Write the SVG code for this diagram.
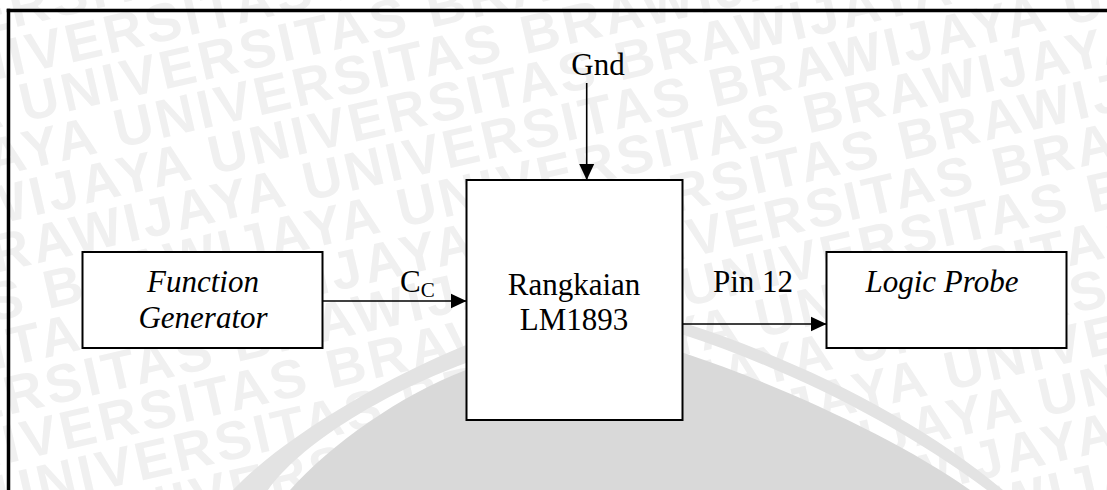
<svg xmlns="http://www.w3.org/2000/svg" xmlns:xlink="http://www.w3.org/1999/xlink" width="1107" height="490" viewBox="0 0 1107 490">
  <defs>
    <style>
      .box { fill: #ffffff; stroke: #000000; stroke-width: 2; }
      .lbl { font-family: "Liberation Serif", "Times New Roman", serif; font-size: 31px; fill: #000000; }
      .it { font-style: italic; }
      .wire { stroke: #000000; stroke-width: 1.6; fill: none; marker-end: url(#arrow); }
      .wm { font-family: "Liberation Sans", Arial, sans-serif; font-weight: bold; font-size: 54px; letter-spacing: 3.6px; fill: #f0f0f0; }
    </style>
    <marker id="arrow" markerUnits="userSpaceOnUse" markerWidth="16" markerHeight="16" refX="16" refY="8" orient="auto">
      <path d="M0,0.5 L16,8 L0,15.5 Z" fill="#000000"/>
    </marker>
    <text id="wmrow" class="wm" x="0" y="0">UNIVERSITAS BRAWIJAYA UNIVERSITAS BRAWIJAYA UNIVERSITAS BRAWIJAYA UNIVERSITAS BRAWIJAYA</text>
  </defs>

  <rect x="0" y="0" width="1107" height="490" fill="#ffffff"/>

  <g id="watermark" transform="rotate(-13)">
    <use xlink:href="#wmrow" x="-956" y="30"/>
    <use xlink:href="#wmrow" x="-870" y="77"/>
    <use xlink:href="#wmrow" x="-784" y="124"/>
    <use xlink:href="#wmrow" x="-698" y="171"/>
    <use xlink:href="#wmrow" x="-612" y="218"/>
    <use xlink:href="#wmrow" x="-526" y="265"/>
    <use xlink:href="#wmrow" x="-440" y="312"/>
    <use xlink:href="#wmrow" x="-354" y="359"/>
    <use xlink:href="#wmrow" x="-268" y="406"/>
    <use xlink:href="#wmrow" x="-182" y="453"/>
    <use xlink:href="#wmrow" x="-896" y="500"/>
    <use xlink:href="#wmrow" x="-810" y="547"/>
    <use xlink:href="#wmrow" x="-724" y="594"/>
    <use xlink:href="#wmrow" x="-638" y="641"/>
    <use xlink:href="#wmrow" x="-552" y="688"/>
    <use xlink:href="#wmrow" x="-466" y="735"/>
    <use xlink:href="#wmrow" x="-380" y="782"/>
  </g>

  <g id="arcs">
    <path d="M233,490 C280,440 380,380 466,345 L575,320 L684,323 C800,360 920,420 1003,490 L987,490 C900,425 790,370 684,335 L575,335 L466,363 C380,395 300,445 268,490 Z" fill="#e3e3e3"/>
    <path d="M290,490 C330,445 400,395 466,370 L575,345 L684,353 C780,385 900,440 970,490 Z" fill="#d9d9d9"/>
  </g>

  <g id="frame" stroke="#000000" stroke-width="3.5" fill="none">
    <line x1="6.75" y1="10.5" x2="1107" y2="10.5"/>
    <line x1="8.5" y1="8.75" x2="8.5" y2="490"/>
  </g>

  <g id="function-generator">
    <rect class="box" x="82.5" y="252" width="240" height="96"/>
    <text class="lbl it" x="203" y="292" text-anchor="middle">Function</text>
    <text class="lbl it" x="203" y="328" text-anchor="middle">Generator</text>
  </g>

  <g id="rangkaian-lm1893">
    <rect class="box" x="466.5" y="180" width="216" height="240"/>
    <text class="lbl" x="574" y="295" text-anchor="middle">Rangkaian</text>
    <text class="lbl" x="574" y="330" text-anchor="middle">LM1893</text>
  </g>

  <g id="logic-probe">
    <rect class="box" x="826.5" y="252" width="240" height="96"/>
    <text class="lbl it" x="942" y="292" text-anchor="middle">Logic Probe</text>
  </g>

  <g id="gnd">
    <text class="lbl" x="598" y="75" text-anchor="middle">Gnd</text>
  </g>

  <g id="connectors">
    <line class="wire" x1="586.7" y1="83" x2="586.7" y2="180"/>
    <line class="wire" x1="322.5" y1="301" x2="466.5" y2="301"/>
    <line class="wire" x1="682.5" y1="324" x2="826.5" y2="324"/>
    <text class="lbl" x="400" y="292">C<tspan font-size="21" dy="5">C</tspan></text>
    <text class="lbl" x="753" y="292" text-anchor="middle">Pin 12</text>
  </g>
</svg>
